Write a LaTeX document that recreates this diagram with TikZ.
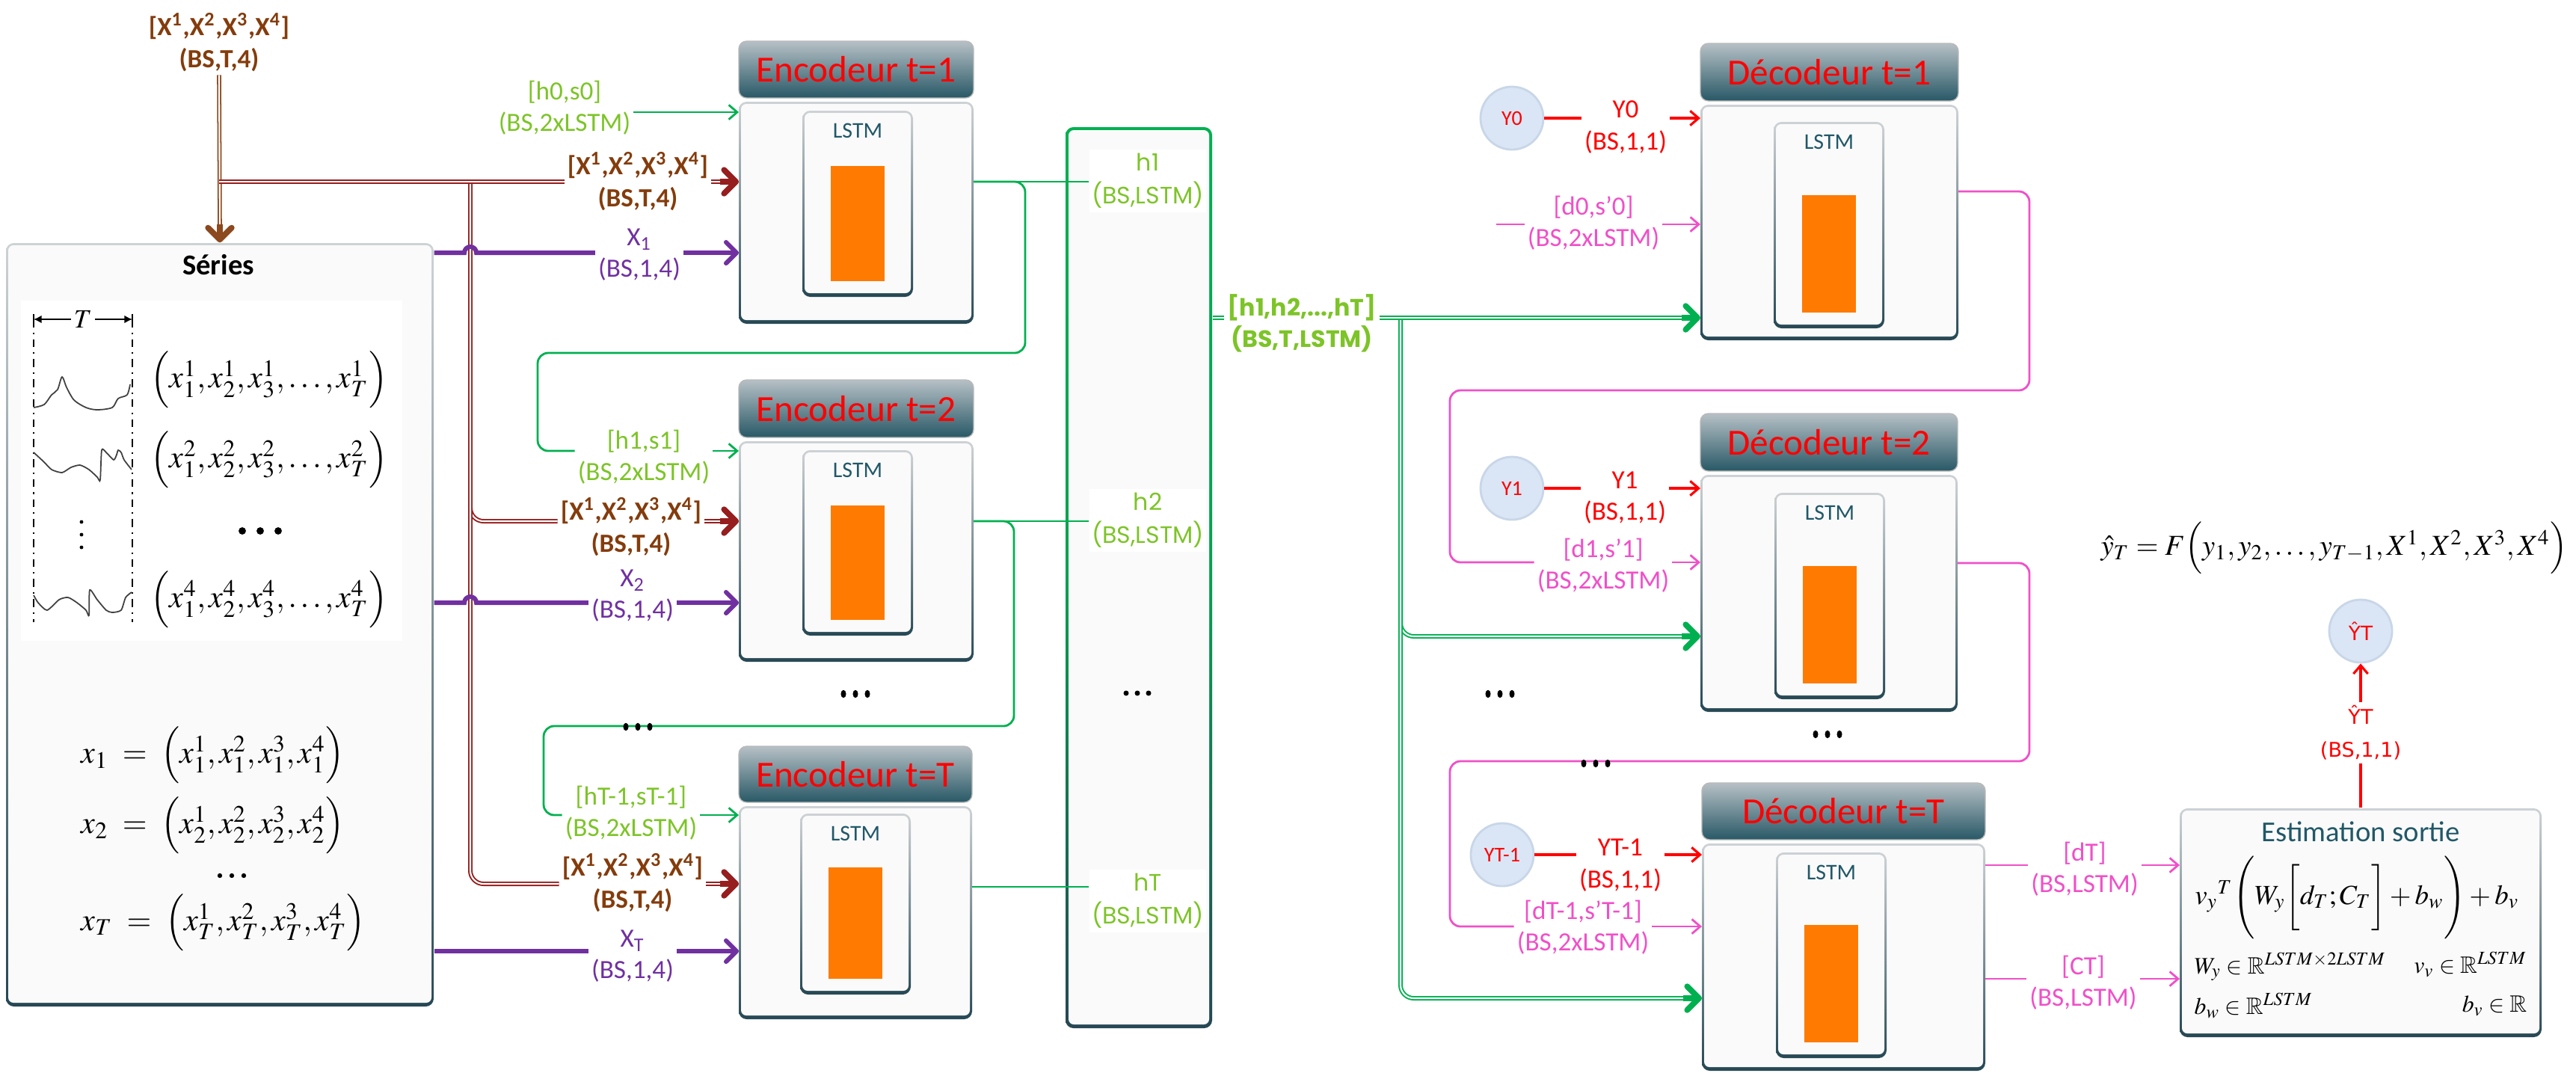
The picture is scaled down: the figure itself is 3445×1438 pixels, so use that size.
\documentclass[tikz,border=0pt]{standalone}
\usepackage{mathptmx}
\usepackage{amssymb}
\usepackage{fontspec}
\setmainfont{Carlito}
\newfontfamily\popf{Poppins}
\newfontfamily\djv{DejaVu Sans}
\usetikzlibrary{arrows.meta,fit,calc}
\definecolor{cRed}{RGB}{255,0,0}
\definecolor{cHdrTop}{RGB}{182,192,197}
\definecolor{cHdrBot}{RGB}{40,88,102}
\definecolor{cBorderTop}{RGB}{205,210,213}
\definecolor{cBorderBot}{RGB}{38,72,84}
\definecolor{cBody}{RGB}{250,250,250}
\definecolor{cLstm}{RGB}{33,88,104}
\definecolor{cOrange}{RGB}{255,122,0}
\definecolor{cGreen}{RGB}{0,176,80}
\definecolor{cLGreen}{RGB}{125,196,40}
\definecolor{cBrown}{RGB}{132,60,12}
\definecolor{cBrownL}{RGB}{140,72,30}
\definecolor{cDRed}{RGB}{150,30,30}
\definecolor{cPurple}{RGB}{112,48,160}
\definecolor{cPink}{RGB}{240,80,200}
\definecolor{cCircle}{RGB}{218,230,245}
\definecolor{cCircleB}{RGB}{200,214,232}
\newcommand\Xsup[1]{X\textsuperscript{#1}}
\tikzset{
  lab/.style={align=center, inner sep=1pt, font=\fontsize{10}{12}\selectfont},
  lgr/.style={lab, text=cLGreen},
  lbr/.style={lab, text=cBrown, font=\bfseries\fontsize{10}{12.3}\selectfont},
  lpu/.style={lab, text=cPurple},
  lre/.style={lab, text=cRed},
  lpi/.style={lab, text=cPink},
  hlab/.style={align=center, fill=white, inner sep=1pt, minimum width=1.46cm, minimum height=0.84cm, text=cLGreen, font=\popf\fontsize{9}{12.5}\selectfont},
  boxo/.style={rectangle, rounded corners=3pt, inner sep=0pt, top color=cBorderTop, bottom color=cBorderBot, draw=none},
  boxi/.style={rectangle, rounded corners=2pt, inner sep=0pt, fill=cBody, draw=none},
  colo/.style={rectangle, rounded corners=3pt, inner sep=0pt, top color=cGreen, bottom color=cBorderBot, middle color=cGreen!85!cBorderBot, draw=none},
  hdr/.style={rectangle, rounded corners=3pt, inner sep=0pt, top color=cHdrTop, bottom color=cHdrBot, draw=gray!55, line width=0.4pt},
  htitle/.style={inner sep=0pt, text=cRed, font=\fontsize{14}{16}\selectfont},
  lstmtxt/.style={inner sep=0pt, text=cLstm, font=\fontsize{8.5}{10}\selectfont},
  circ/.style={circle, fill=cCircle, draw=cCircleB, line width=0.8pt, minimum size=0.84cm, inner sep=0pt, text=cRed, font=\fontsize{8}{9}\selectfont},
  thinTip/.style={-{Straight Barb[length=3.2pt,width=5.5pt]}},
  gthin/.style={draw=cGreen, line width=0.8pt},
  pthin/.style={draw=cPink, line width=0.8pt},
  rthin/.style={draw=cRed, line width=0.9pt},
  purp/.style={draw=cPurple, line width=1.7pt},
  purpTip/.style={-{Straight Barb[length=4pt,width=8pt,round]}},
  brn/.style={draw=cDRed, double=white, line width=0.55pt, double distance=0.6pt},
  brnv/.style={draw=cBrownL, double=white, line width=0.5pt, double distance=0.6pt},
  gdbl/.style={draw=cGreen, double=white, line width=0.55pt, double distance=0.6pt},
  bigtip/.style={draw=#1, line width=2.2pt, -{Straight Barb[length=4.5pt,width=9pt,round]}},
  mathf/.style={inner sep=0pt, font=\fontsize{12}{14}\selectfont},
}
% block frame: name, x1, x2, header top, header bottom, body bottom, title
\newcommand\blockframe[7]{%
  \node[hdr, fit={(#2,#4) (#3,#5)}] (#1h) {};
  \node[htitle] (#1t) at (#1h.center) {#7};
  \node[boxo, fit={(#2,{#5+5}) (#3,#6)}] (#1) {};
  \node[boxi, fit={({#2+3},{#5+8}) ({#3-3},{#6-5})}] (#1i) {};
}
% lstm cell: name, center x, top, bottom, orange top
\newcommand\lstmcell[5]{%
  \node[boxo, fit={({#2-74},#3) ({#2+74},#4)}] (#1l) {};
  \node[boxi, fit={({#2-71},{#3+3}) ({#2+71},{#4-5})}] (#1li) {};
  \node[lstmtxt] (#1lt) at (#2,{#3+27}) {LSTM};
  \node[fill=cOrange, inner sep=0pt, fit={({#2-36},#5) ({#2+36},{#4-21})}] (#1or) {};
}
\newcommand\tallDots[3]{\foreach \kk in {-1,0,1}{\fill ({#1+\kk*#3},#2) ellipse [x radius=1pt, y radius=1.5pt];}}
\newcommand\roundDots[4]{\foreach \kk in {-1,0,1}{\fill ({#1+\kk*#3},#2) circle [radius=#4];}}
\begin{document}
\begin{tikzpicture}[x=0.01cm,y=-0.01cm]
\useasboundingbox (0,0) rectangle (3445,1438);

% ---------------- Series box ----------------
\node[boxo, fit={(8,325) (580,1346)}] (series) {};
\node[boxi, fit={(11,328) (577,1341)}] (seriesi) {};
\node[font=\bfseries\fontsize{11}{13}\selectfont, inner sep=0pt] (sertitle) at (292,354) {Séries};
\node[fill=white, inner sep=0pt, fit={(28,402) (538,857)}] (serpanel) {};
\node[inner sep=1pt, font=\fontsize{10}{12}\selectfont] (tlab) at (111,427) {$T$};
\coordinate (tl) at (45,427);
\coordinate (tr) at (177,427);
\draw[line width=0.5pt, -{Latex[length=3pt,width=3pt]}] (tlab.west) -- (tl);
\draw[line width=0.5pt, -{Latex[length=3pt,width=3pt]}] (tlab.east) -- (tr);
\draw[line width=0.6pt] ([yshift=2pt]tl) -- ([yshift=-2pt]tl);
\draw[line width=0.6pt] ([yshift=2pt]tr) -- ([yshift=-2pt]tr);
\draw[line width=0.6pt, dash dot] (tl) -- ++(0,405);
\draw[line width=0.6pt, dash dot] (tr) -- ++(0,405);
\draw[line width=0.5pt, black!75] plot[smooth, tension=0.5] coordinates {(45,545) (59,541) (69,528) (77,521) (83,504) (89,518) (99,535) (115,545) (130,548) (150,545) (158,533) (170,528) (174,514)};
\draw[line width=0.5pt, black!75] plot[smooth, tension=0.4] coordinates {(45,605) (59,618) (69,628) (83,632) (95,625) (107,622) (119,628) (130,638) (134,642) (136,602) (142,605) (152,615) (156,608) (158,602) (162,605) (166,615) (176,628)};
\draw[line width=0.5pt, black!75] plot[smooth, tension=0.4] coordinates {(45,796) (51,806) (63,816) (79,802) (91,799) (103,806) (115,816) (119,823) (120,789) (130,802) (142,816) (150,819) (162,816) (168,799) (176,792)};
\foreach \kk in {-1,0,1}{\fill (109,{715+\kk*17}) circle [radius=0.7pt];}
\node[mathf] (row1) at (360,508) {$\Bigl(x_1^1, x_2^1, x_3^1, \ldots, x_T^1\Bigr)$};
\node[mathf] (row2) at (360,615) {$\Bigl(x_1^2, x_2^2, x_3^2, \ldots, x_T^2\Bigr)$};
\roundDots{348}{710}{24}{1.4pt}
\node[mathf] (row4) at (360,802) {$\Bigl(x_1^4, x_2^4, x_3^4, \ldots, x_T^4\Bigr)$};
\node[mathf, anchor=west] (fx1) at (108,1010) {$x_1 \;=\; \Bigl(x_1^1, x_1^2, x_1^3, x_1^4\Bigr)$};
\node[mathf, anchor=west] (fx2) at (108,1104) {$x_2 \;=\; \Bigl(x_2^1, x_2^2, x_2^3, x_2^4\Bigr)$};
\roundDots{310}{1171}{16}{0.9pt}
\node[mathf, anchor=west] (fxT) at (108,1234) {$x_T \;=\; \Bigl(x_T^1, x_T^2, x_T^3, x_T^4\Bigr)$};

% ---------------- Encoders ----------------
\blockframe{e1}{988}{1302}{55}{131}{433}{Encodeur t=1}
\lstmcell{e1}{1147}{148}{397}{222}
\blockframe{e2}{988}{1302}{508}{585}{885}{Encodeur t=2}
\lstmcell{e2}{1147}{602}{850}{676}
\blockframe{eT}{988}{1300}{998}{1073}{1363}{Encodeur t=T}
\lstmcell{eT}{1144}{1088}{1330}{1160}
\tallDots{1144}{928}{16}

\coordinate (e1a) at (988,150);
\coordinate (e1b) at (988,243);
\coordinate (e1c) at (988,338);
\coordinate (e2a) at (988,603);
\coordinate (e2b) at (988,697);
\coordinate (e2c) at (988,806);
\coordinate (eTa) at (988,1090);
\coordinate (eTb) at (988,1182);
\coordinate (eTc) at (988,1272);
\coordinate (e1o) at (1302,243);
\coordinate (e2o) at (1302,697);
\coordinate (eTo) at (1300,1186);

% ---------------- Hidden states column ----------------
\node[colo, fit={(1425,170) (1621,1375)}] (col) {};
\node[boxi, fit={(1429,174) (1617,1370)}] (coli) {};
\node[hlab] (lhc1) at (1535,242) {h1\\(BS,LSTM)};
\node[hlab] (lhc2) at (1535,696) {h2\\(BS,LSTM)};
\node[hlab] (lhcT) at (1535,1205) {hT\\(BS,LSTM)};
\roundDots{1521}{927}{15}{1pt}

% ---------------- Input labels ----------------
\node[lbr] (xtop) at (293,57) {[\Xsup1,\Xsup2,\Xsup3,\Xsup4]\\(BS,T,4)};
\node[lgr] (lh0) at (755,144) {[h0,s0]\\(BS,2xLSTM)};
\node[lbr] (lX1) at (853,243) {[\Xsup1,\Xsup2,\Xsup3,\Xsup4]\\(BS,T,4)};
\node[lpu] (lXp1) at (855,341) {X\textsubscript{1}\\(BS,1,4)};
\node[lgr] (lh1s) at (861,611) {[h1,s1]\\(BS,2xLSTM)};
\node[lbr] (lX2) at (844,705) {[\Xsup1,\Xsup2,\Xsup3,\Xsup4]\\(BS,T,4)};
\node[lpu] (lXp2) at (846,797) {X\textsubscript{2}\\(BS,1,4)};
\node[lgr] (lhTs) at (844,1087) {[hT-1,sT-1]\\(BS,2xLSTM)};
\node[lbr] (lXT) at (846,1181) {[\Xsup1,\Xsup2,\Xsup3,\Xsup4]\\(BS,T,4)};
\node[lpu] (lXpT) at (846,1279) {X\textsubscript{T}\\(BS,1,4)};

% brown lines
\coordinate (j0) at (293,243);
\coordinate (j1) at (629,243);
\draw[brnv] (xtop.south) -- ([yshift=5pt]series.north);
\draw[bigtip=cBrownL] ([yshift=7pt]series.north) -- (series.north);
\draw[brn, rounded corners=5pt] (j1) |- (lX2.west |- e2b);
\draw[brn, rounded corners=5pt] (j1) |- (lXT.west |- eTb);
\draw[brn] (j0) -- (lX1.west |- e1b);
\draw[brn] (lX1.east |- e1b) -- ([xshift=-4pt]e1b);
\draw[bigtip=cDRed] ([xshift=-7pt]e1b) -- (e1b);
\draw[brn] (lX2.east |- e2b) -- ([xshift=-4pt]e2b);
\draw[bigtip=cDRed] ([xshift=-7pt]e2b) -- (e2b);
\draw[brn] (lXT.east |- eTb) -- ([xshift=-4pt]eTb);
\draw[bigtip=cDRed] ([xshift=-7pt]eTb) -- (eTb);

% purple lines
\draw[purp] (series.east |- e1c) -- (621,338) arc[start angle=180, end angle=0, radius=2.28pt] -- (lXp1.west |- e1c);
\draw[purp, purpTip] (lXp1.east |- e1c) -- (e1c);
\draw[purp] (series.east |- e2c) -- (621,806) arc[start angle=180, end angle=0, radius=2.28pt] -- (lXp2.west |- e2c);
\draw[purp, purpTip] (lXp2.east |- e2c) -- (e2c);
\draw[purp] (series.east |- eTc) -- (lXpT.west |- eTc);
\draw[purp, purpTip] (lXpT.east |- eTc) -- (eTc);

% green encoder state lines
\draw[gthin, thinTip] (lh0.east |- e1a) -- (e1a);
\draw[gthin] (e1o) -- (lhc1.west |- e1o);
\draw[gthin, rounded corners=4pt] (e1o) -| (1371,472) -- (719,472) |- (lh1s.west |- e2a);
\draw[gthin, thinTip] (lh1s.east |- e2a) -- (e2a);
\draw[gthin] (e2o) -- (lhc2.west |- e2o);
\draw[gthin, rounded corners=4pt] (e2o) -| (1356,971) -- (727,971) |- (lhTs.west |- eTa);
\draw[gthin, thinTip] (lhTs.east |- eTa) -- (eTa);
\draw[gthin] (eTo) -- (lhcT.west |- eTo);
\tallDots{853}{972}{16}

% ---------------- Decoders ----------------
\blockframe{d1}{2274}{2619}{58}{135}{455}{Décodeur t=1}
\lstmcell{d1}{2446}{163}{439}{261}
\blockframe{d2}{2274}{2618}{553}{630}{952}{Décodeur t=2}
\lstmcell{d2}{2447}{659}{935}{757}
\blockframe{dT}{2276}{2655}{1047}{1123}{1432}{Décodeur t=T}
\lstmcell{dT}{2449}{1140}{1415}{1237}
\tallDots{2444}{982}{16}
\tallDots{2006}{928}{16}

\coordinate (d1a) at (2274,158);
\coordinate (d1b) at (2274,300);
\coordinate (d1c) at (2274,425);
\coordinate (d2a) at (2274,653);
\coordinate (d2b) at (2274,752);
\coordinate (d2c) at (2274,851);
\coordinate (dTa) at (2276,1143);
\coordinate (dTb) at (2276,1239);
\coordinate (dTc) at (2276,1335);
\coordinate (d1o) at (2619,256);
\coordinate (d2o) at (2618,753);
\coordinate (dTo1) at (2655,1157);
\coordinate (dTo2) at (2655,1309);

% hidden states to decoders
\node[lab, text=cLGreen, font=\popf\bfseries\fontsize{9}{12}\selectfont] (lH) at (1741,432) {[h1,h2,...,hT]\\(BS,T,LSTM)};
\coordinate (k3) at (1873,425);
\draw[gdbl, rounded corners=5pt] (k3) |- ([xshift=-4pt]d2c);
\draw[gdbl, rounded corners=5pt] (k3) |- ([xshift=-4pt]dTc);
\draw[gdbl] (col.east |- d1c) -- (lH.west |- d1c);
\draw[gdbl] (lH.east |- d1c) -- ([xshift=-4pt]d1c);
\draw[bigtip=cGreen] ([xshift=-7pt]d1c) -- (d1c);
\draw[bigtip=cGreen] ([xshift=-7pt]d2c) -- (d2c);
\draw[bigtip=cGreen] ([xshift=-7pt]dTc) -- (dTc);

% decoder inputs
\node[circ] (cY0) at (2022,158) {Y0};
\node[lre] (lY0) at (2174,170) {Y0\\(BS,1,1)};
\draw[rthin] (cY0.east) -- (lY0.west |- d1a);
\draw[rthin, thinTip] (lY0.east |- d1a) -- (d1a);
\coordinate (d0s) at (2001,300);
\node[lpi] (ld0) at (2131,298) {[d0,s’0]\\(BS,2xLSTM)};
\draw[pthin] (d0s) -- (ld0.west |- d1b);
\draw[pthin, thinTip] (ld0.east |- d1b) -- (d1b);

\node[circ] (cY1) at (2022,653) {Y1};
\node[lre] (lY1) at (2173,666) {Y1\\(BS,1,1)};
\draw[rthin] (cY1.east) -- (lY1.west |- d2a);
\draw[rthin, thinTip] (lY1.east |- d2a) -- (d2a);
\node[lpi] (ld1) at (2144,756) {[d1,s’1]\\(BS,2xLSTM)};
\draw[pthin, rounded corners=4pt] (d1o) -| (2714,522) -- (1939,522) |- (ld1.west |- d2b);
\draw[pthin, thinTip] (ld1.east |- d2b) -- (d2b);

\node[circ] (cYT) at (2009,1143) {YT-1};
\node[lre] (lYT) at (2167,1157) {YT-1\\(BS,1,1)};
\draw[rthin] (cYT.east) -- (lYT.west |- dTa);
\draw[rthin, thinTip] (lYT.east |- dTa) -- (dTa);
\node[lpi] (ldT1) at (2117,1240) {[dT-1,s’T-1]\\(BS,2xLSTM)};
\draw[pthin, rounded corners=4pt] (d2o) -| (2714,1018) -- (1939,1018) |- (ldT1.west |- dTb);
\draw[pthin, thinTip] (ldT1.east |- dTb) -- (dTb);
\tallDots{2134}{1021}{16}

% ---------------- Output estimation ----------------
\node[boxo, fit={(2915,1081) (3399,1387)}] (est) {};
\node[boxi, fit={(2918,1084) (3396,1382)}] (esti) {};
\node[inner sep=0pt, text=cLstm, font=\fontsize{11}{13}\selectfont] (esttitle) at (3157,1112) {Estimation sortie};
\node[inner sep=0pt, font=\fontsize{10.5}{12}\selectfont] (estf) at (3152,1200) {$v_y{}^T \Biggl(W_y\biggl[d_T;C_T\biggr]+b_w\Biggr)+b_v$};
\node[inner sep=0pt, anchor=west, font=\fontsize{9}{11}\selectfont] (wy) at (2934,1293) {$W_y \in \mathbb{R}^{LSTM\times 2LSTM}$};
\node[inner sep=0pt, anchor=east, font=\fontsize{9}{11}\selectfont] (vy) at (3380,1290) {$v_v \in \mathbb{R}^{LSTM}$};
\node[inner sep=0pt, anchor=west, font=\fontsize{9}{11}\selectfont] (bw) at (2934,1345) {$b_w \in \mathbb{R}^{LSTM}$};
\node[inner sep=0pt, anchor=east, font=\fontsize{9}{11}\selectfont] (bv) at (3380,1345) {$b_v \in \mathbb{R}$};

\coordinate (es1) at (2915,1157);
\coordinate (es2) at (2915,1309);
\node[lpi] (ldT) at (2788,1162) {[dT]\\(BS,LSTM)};
\node[lpi] (lCT) at (2786,1314) {[CT]\\(BS,LSTM)};
\draw[pthin] (dTo1) -- (ldT.west |- dTo1);
\draw[pthin, thinTip] (ldT.east |- es1) -- (es1);
\draw[pthin] (dTo2) -- (lCT.west |- dTo2);
\draw[pthin, thinTip] (lCT.east |- es2) -- (es2);

\node[circ, font=\djv\fontsize{7.5}{9}\selectfont] (cYh) at (3157,844) {ŶT};
\node[lab, text=cRed, font=\djv\fontsize{7.7}{12.5}\selectfont] (lYh) at (3157,980) {ŶT\\(BS,1,1)};
\draw[rthin] (est.north) -- (lYh.south);
\draw[rthin, thinTip] (lYh.north) -- (cYh.south);
\node[inner sep=0pt, anchor=east, font=\fontsize{11}{13}\selectfont] (yhat) at (3434,733) {$\hat{y}_T = F\Bigl(y_1, y_2, \ldots, y_{T-1}, X^1, X^2, X^3, X^4\Bigr)$};
\end{tikzpicture}
\end{document}
